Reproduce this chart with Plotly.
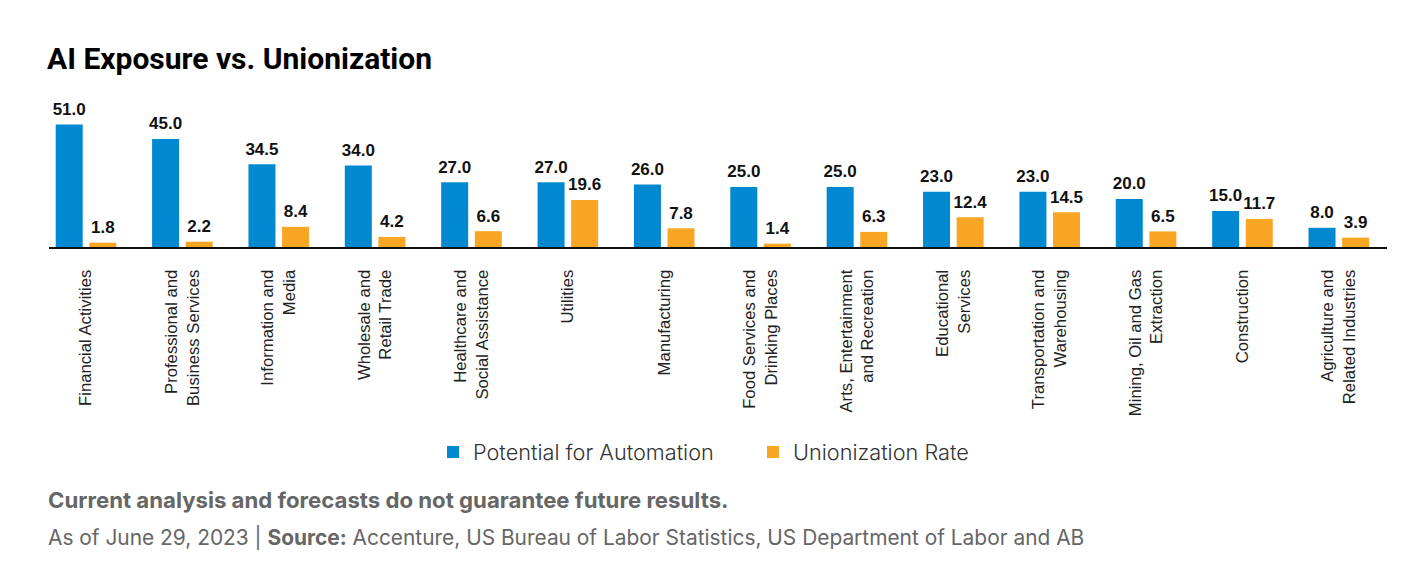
import plotly.graph_objects as go

categories = [
    "Financial Activities",
    "Professional and<br>Business Services",
    "Information and<br>Media",
    "Wholesale and<br>Retail Trade",
    "Healthcare and<br>Social Assistance",
    "Utilities",
    "Manufacturing",
    "Food Services and<br>Drinking Places",
    "Arts, Entertainment<br>and Recreation",
    "Educational<br>Services",
    "Transportation and<br>Warehousing",
    "Mining, Oil and Gas<br>Extraction",
    "Construction",
    "Agriculture and<br>Related Industries",
]
automation = [51.0, 45.0, 34.5, 34.0, 27.0, 27.0, 26.0, 25.0, 25.0, 23.0, 23.0, 20.0, 15.0, 8.0]
unionization = [1.8, 2.2, 8.4, 4.2, 6.6, 19.6, 7.8, 1.4, 6.3, 12.4, 14.5, 6.5, 11.7, 3.9]

BLUE = "#0089D0"
ORANGE = "#FAA625"
label_font = dict(family="Liberation Sans, Arial, sans-serif", size=17, color="#111111", weight="bold")
xs = list(range(len(categories)))

fig = go.Figure()
for name, vals, col in [("Potential for Automation", automation, BLUE),
                        ("Unionization Rate", unionization, ORANGE)]:
    fig.add_trace(go.Bar(
        x=xs, y=vals, name=name, marker=dict(color=col, line=dict(width=0)),
        hoverinfo="skip",
    ))
# value labels (grouped scatter text aligned with the bars)
for name, vals in [("Potential for Automation", automation), ("Unionization Rate", unionization)]:
    fig.add_trace(go.Scatter(
        x=xs, y=vals, mode="markers+text", orientation="v",
        text=[f"{v:.1f}" for v in vals], textposition="top center", textfont=label_font,
        marker=dict(size=7, opacity=0), showlegend=False, cliponaxis=False,
        hoverinfo="skip", name=name + " labels",
    ))

plot_h = 132.0
base_y = 246.7

def py(ypix):
    return (base_y - ypix) / plot_h

fig.update_layout(
    width=1420, height=588,
    margin=dict(l=49, r=33, t=115, b=341, pad=0),
    paper_bgcolor="white", plot_bgcolor="white",
    barmode="group", bargap=0.303, bargroupgap=0.196,
    scattermode="group", scattergap=0.303,
    title=dict(
        text="<b>AI Exposure vs. Unionization</b>",
        font=dict(family="Roboto, sans-serif", size=30, color="#000000"),
        xref="container", yref="container", x=47 / 1420, xanchor="left",
        y=1 - 58 / 588, yanchor="middle",
    ),
    xaxis=dict(
        range=[-0.384, 13.5],
        tickmode="array", tickvals=xs, ticktext=categories,
        tickangle=-90, showgrid=False, zeroline=False,
        showline=True, linecolor="#111111", linewidth=2,
        ticks="", ticklabelstandoff=14,
        tickfont=dict(family="Liberation Sans, Arial, sans-serif", size=16.7, color="#222222"),
    ),
    yaxis=dict(range=[0, 55], visible=False, showgrid=False, zeroline=False),
    showlegend=True,
    legend=dict(
        orientation="h", x=(433 - 49) / 1338, xanchor="left", y=py(452), yanchor="middle",
        font=dict(family="Inter, sans-serif", size=21.7, color="#333333", weight=300),
        traceorder="normal",
        entrywidth=275, entrywidthmode="pixels",
    ),
    annotations=[
        dict(
            text="<b>Current analysis and forecasts do not guarantee future results.</b>",
            xref="paper", yref="paper", x=-3 / 1338, xanchor="left", y=py(499), yanchor="middle",
            showarrow=False, font=dict(family="Inter, sans-serif", size=22.2, color="#666666"),
        ),
        dict(
            text="As of June 29, 2023 | <b>Source:</b> Accenture, US Bureau of Labor Statistics, US Department of Labor and AB",
            xref="paper", yref="paper", x=-3 / 1338, xanchor="left", y=py(537), yanchor="middle",
            showarrow=False, font=dict(family="Inter, sans-serif", size=20.9, color="#666666"),
        ),
    ],
)

fig.write_html("out.html")
